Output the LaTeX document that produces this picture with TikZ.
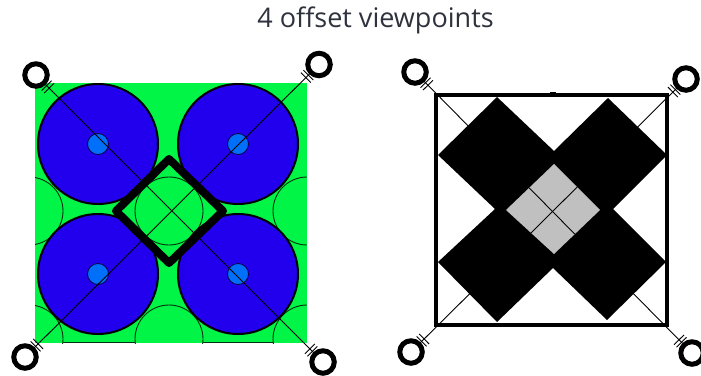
\documentclass[tikz,border=0pt]{standalone}
\usepackage{fontspec}
\setmainfont{Open Sans}
\usetikzlibrary{calc}
\definecolor{fieldcolor}{RGB}{0,245,70}
\definecolor{domecolor}{RGB}{34,0,238}
\definecolor{hubcolor}{RGB}{0,112,250}
\definecolor{titlecolor}{RGB}{45,50,60}
\definecolor{overlapcolor}{RGB}{192,192,192}
\tikzset{
  viewpt/.style={circle, draw=black, line width=5pt, minimum size=22.5pt, inner sep=0pt, fill=white},
  sightline/.style={black, line width=0.9pt},
  ticksmark/.style={black, line width=0.9pt},
  dome/.style={draw=black, line width=2pt, fill=domecolor},
  hub/.style={draw=black!70!domecolor, line width=0.8pt, fill=hubcolor},
  arcline/.style={black!80!fieldcolor, line width=0.9pt},
  footprint/.style={fill=black}
}
\newcommand{\sightticks}[2]{
  \draw[ticksmark] ($(#1)!15pt!(#2)!7pt!90:(#2)$) -- ($(#1)!15pt!(#2)!7pt!-90:(#2)$);
  \draw[ticksmark] ($(#1)!18.5pt!(#2)!7pt!90:(#2)$) -- ($(#1)!18.5pt!(#2)!7pt!-90:(#2)$);
}
\begin{document}
\begin{tikzpicture}[x=1pt, y=-1pt]
    \useasboundingbox (0,0) rectangle (701,375);
    \node[titlecolor, font=\fontsize{27}{30}\selectfont] (title) at (375.5,20) {4 offset viewpoints};
    % coverage of the domes
    \begin{scope}[shift={(170,211)}]
      \fill[fieldcolor] (-135,-128) rectangle (137,132);
      \begin{scope}
        \clip (-135,-128) rectangle (137,132);
        \draw[arcline] (-1,0) circle (34);
        \draw[arcline] (-141,0) circle (34);
        \draw[arcline] (137,0) circle (34);
        \draw[arcline] (-1,128) circle (34);
        \draw[arcline] (-141,128) circle (34);
        \draw[arcline] (137,128) circle (34);
        \draw[arcline] (-107,131) -- (-35,131);
        \draw[arcline] (33,131) -- (103,131);
      \end{scope}
      \draw[dome] (-72,-67) circle (60);
      \draw[dome] (68,-67) circle (60);
      \draw[dome] (-72,63) circle (60);
      \draw[dome] (68,63) circle (60);
      \draw[hub] (-72,-67) circle (10.5);
      \draw[hub] (68,-67) circle (10.5);
      \draw[hub] (-72,63) circle (10.5);
      \draw[hub] (68,63) circle (10.5);
      \draw[black, line width=8pt, line join=round] (-1,-52) -- (53,0) -- (-1,52) -- (-54,0) -- cycle;
      \node[viewpt] (lefta) at (-134,-136) {};
      \node[viewpt] (leftb) at (149,-146.5) {};
      \node[viewpt] (leftc) at (-145,146) {};
      \node[viewpt] (leftd) at (153,151) {};
      \draw[sightline] (lefta) -- (leftd);
      \draw[sightline] (leftb) -- (leftc);
      \sightticks{lefta}{leftd}
      \sightticks{leftd}{lefta}
      \sightticks{leftb}{leftc}
      \sightticks{leftc}{leftb}
    \end{scope}
    % footprint of the domes
    \begin{scope}[shift={(553,210)}]
      \node[viewpt] (righta) at (-138,-138) {};
      \node[viewpt] (rightb) at (133,-131) {};
      \node[viewpt] (rightc) at (-142,142) {};
      \node[viewpt] (rightd) at (139,143) {};
      \draw[sightline] (righta) -- (rightd);
      \draw[sightline] (rightb) -- (rightc);
      \sightticks{righta}{rightd}
      \sightticks{rightd}{righta}
      \sightticks{rightb}{rightc}
      \sightticks{rightc}{rightb}
      \fill[footprint] (-56,-113) -- (1,-59) -- (55,-112) -- (114,-55) -- (60,-1) -- (113,52) -- (54,110) -- (0,58) -- (-56,112) -- (-115,52) -- (-58,-1) -- (-115,-55) -- cycle;
      \fill[overlapcolor] (1,-46) -- (47,0) -- (1,44) -- (-47,0) -- cycle;
      \begin{scope}
        \clip (1,-46) -- (47,0) -- (1,44) -- (-47,0) -- cycle;
        \draw[sightline] (righta) -- (rightd);
        \draw[sightline] (rightb) -- (rightc);
      \end{scope}
      \draw[black, line width=4.5pt] (-117,-115) rectangle (114,115);
      \draw[black, line width=1.6pt] (-3,-117.5) -- (3,-117.5);
    \end{scope}
\end{tikzpicture}
\end{document}
